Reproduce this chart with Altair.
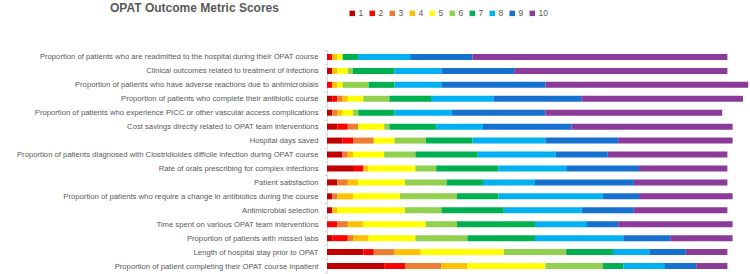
import altair as alt
import pandas as pd

categories = [
    "Proportion of patients who are readmitted to the hospital during their OPAT course",
    "Clinical outcomes related to treatment of infections",
    "Proportion of patients who have adverse reactions due to antimicrobials",
    "Proportion of patients who complete their antibiotic course",
    "Proportion of patients who experience PICC or other vascular access complications",
    "Cost savings directly related to OPAT team interventions",
    "Hospital days saved",
    "Proportion of patients diagnosed with Clostridioides difficile infection during OPAT course",
    "Rate of orals prescribing for complex infections",
    "Patient satisfaction",
    "Proportion of patients who require a change in antibiotics during the course",
    "Antimicrobial selection",
    "Time spent on various OPAT team interventions",
    "Proportion of patients with missed labs",
    "Length of hospital stay prior to OPAT",
    "Proportion of patient completing their OPAT course inpatient",
]

scores = [1, 2, 3, 4, 5, 6, 7, 8, 9, 10]
s1 = [0, 1, 0, 1, 1, 2, 3, 3, 5, 2, 1, 1, 0, 1, 7, 11]
s2 = [1, 0, 1, 1, 0, 2, 2, 0, 2, 0, 0, 0, 2, 3, 2, 4]
s3 = [0, 0, 0, 1, 1, 2, 4, 1, 0, 2, 1, 0, 2, 1, 4, 7]
s4 = [1, 1, 1, 1, 1, 0, 0, 1, 1, 2, 3, 1, 3, 3, 5, 5]
s5 = [1, 2, 1, 3, 2, 5, 4, 6, 9, 9, 9, 13, 12, 9, 16, 15]
s6 = [0, 1, 5, 5, 1, 1, 6, 6, 4, 8, 11, 7, 6, 10, 12, 11]
s7 = [3, 8, 5, 8, 7, 9, 9, 12, 12, 7, 8, 12, 15, 13, 9, 4]
s8 = [10, 9, 9, 12, 11, 9, 14, 15, 13, 10, 20, 15, 10, 17, 7, 8]
s9 = [12, 14, 20, 17, 18, 17, 14, 10, 14, 19, 7, 10, 6, 9, 7, 6]
s10 = [49, 41, 39, 31, 34, 31, 22, 23, 17, 18, 18, 18, 22, 12, 8, 6]
series = [s1, s2, s3, s4, s5, s6, s7, s8, s9, s10]

colors = ["#C00000", "#FF0000", "#ED7D31", "#FFC000", "#FFFF00",
          "#92D050", "#00B050", "#00B0F0", "#1570D0", "#8A3A98"]

rows = []
for sc, vals in zip(scores, series):
    for cat, v in zip(categories, vals):
        rows.append({"metric": cat, "score": sc, "count": v})
df = pd.DataFrame(rows)

FONT = "Liberation Sans, Arial, sans-serif"
GREY = "#595959"

W = 422
UNIT = 5.2

chart = alt.Chart(df).mark_bar(size=6).encode(
    y=alt.Y("metric:N", sort=categories,
            scale=alt.Scale(paddingInner=0, paddingOuter=0),
            axis=alt.Axis(title=None, labelFont=FONT, labelFontSize=7.7,
                          labelColor=GREY, labelLimit=340, labelPadding=6,
                          domainColor="#D9D9D9", tickColor="#D9D9D9",
                          tickSize=3, tickBand="extent")),
    x=alt.X("count:Q", stack="zero",
            scale=alt.Scale(domain=[0, W / UNIT], nice=False, zero=True),
            axis=None),
    color=alt.Color("score:O",
                    scale=alt.Scale(domain=scores, range=colors),
                    legend=alt.Legend(title=None, orient="none", direction="horizontal",
                                      legendX=21, legendY=-41,
                                      symbolType="square", symbolSize=30,
                                      symbolStrokeWidth=0,
                                      labelFont=FONT, labelFontSize=8.5,
                                      labelColor=GREY, labelOffset=2,
                                      columnPadding=4, columns=10)),
    order=alt.Order("score:Q", sort="ascending"),
).properties(
    width=W,
    height=223,
    title=alt.TitleParams("OPAT Outcome Metric Scores", anchor="start",
                          frame="group",
                          font=FONT, fontSize=12, fontWeight="bold",
                          color=GREY, dx=-217, dy=10),
    autosize=alt.AutoSizeParams(type="none"),
    padding={"left": 327, "top": 50, "right": 1, "bottom": 1},
).configure_view(stroke=None)

chart.save("out.html", embed_options={"renderer": "svg", "actions": False})
